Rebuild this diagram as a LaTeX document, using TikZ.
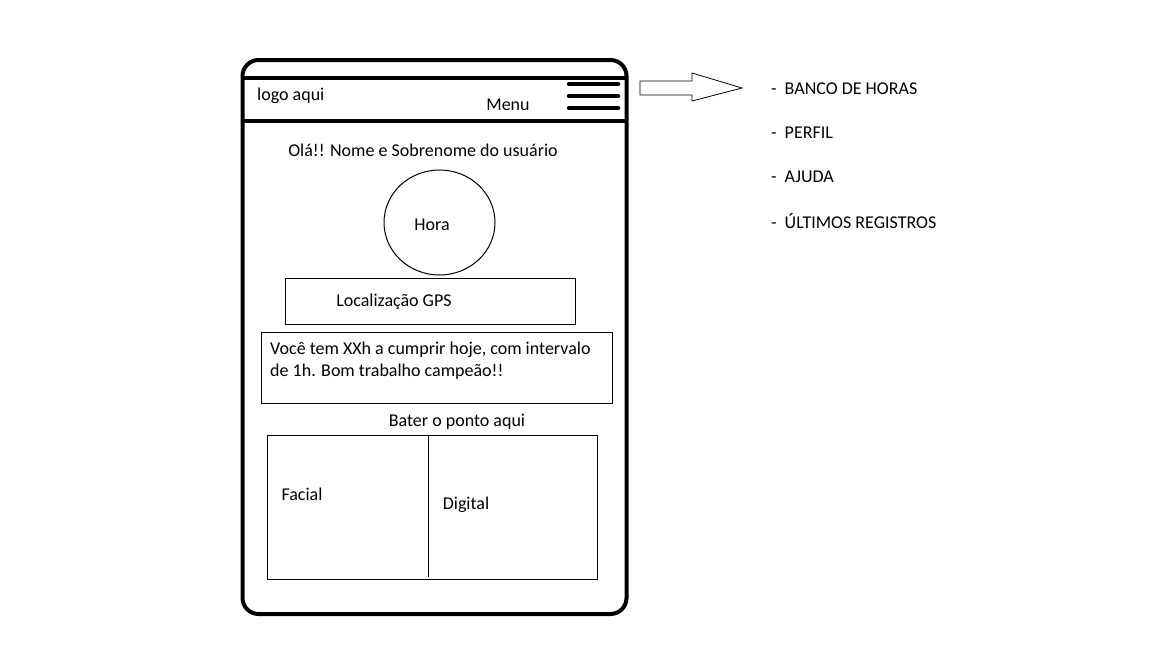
\documentclass[tikz,border=0pt]{standalone}
\usepackage{fontspec}
\setmainfont{Carlito}
\usetikzlibrary{shapes.geometric}
\begin{document}
\begin{tikzpicture}[x=1pt,y=-1pt,
  thick line/.style={line width=4pt},
  thin box/.style={draw,line width=1pt},
  lbl/.style={inner sep=0pt,font=\fontsize{18}{21}\selectfont},
  listitem/.style={lbl,anchor=west}]
\useasboundingbox (0,0) rectangle (1152,648);
% phone body
\draw[thick line,rounded corners=16pt] (242.5,60) rectangle (626.5,614);
\draw[thick line] (242.5,78) -- (626.5,78);
\draw[thick line] (242.5,121) -- (626.5,121);
% hamburger
\draw[line width=4.5pt,line cap=round] (569,84) -- (618,84);
\draw[line width=4.5pt,line cap=round] (569,96) -- (618,96);
\draw[line width=4.5pt,line cap=round] (569,108) -- (618,108);
\node[lbl,anchor=west] (logo) at (257,96) {logo aqui};
\node[lbl] (menu) at (508,105) {Menu};
% arrow
\draw[line width=0.8pt] (640,81) -- (692,81) -- (692,73) -- (742,88) -- (692,101) -- (692,95) -- (640,95) -- cycle;
% list
\node[listitem] (l1) at (771,89) {-\hspace{8pt}BANCO DE HORAS};
\node[listitem] (l2) at (771,133) {-\hspace{8pt}PERFIL};
\node[listitem] (l3) at (771,177) {-\hspace{8pt}AJUDA};
\node[listitem] (l4) at (771,221) {-\hspace{8pt}ÚLTIMOS REGISTROS};
% content
\node[lbl] (hello) at (423,150) {Olá!! Nome e Sobrenome do usuário};
\node[draw,line width=1pt,ellipse,minimum width=111pt,minimum height=105pt,inner sep=0pt] (clock) at (439.5,222.5) {};
\node[lbl] (hora) at (432,225) {Hora};
\node[thin box,minimum width=290pt,minimum height=46pt,inner sep=0pt] (gps) at (430,301) {};
\node[lbl] (gpst) at (394,302) {Localização GPS};
\node[thin box,minimum width=351pt,minimum height=71pt,inner sep=0pt] (msg) at (436.5,367.5) {};
\node[lbl,anchor=north west,align=left,font=\fontsize{18}{22}\selectfont] (msgt) at (270,342) {Você tem XXh a cumprir hoje, com intervalo\\de 1h. Bom trabalho campeão!!};
\node[lbl] (bater) at (457,422) {Bater o ponto aqui};
\node[thin box,minimum width=330pt,minimum height=144pt,inner sep=0pt] (ponto) at (432,507) {};
\coordinate (dtop) at (428,435);
\coordinate (dbot) at (428,577);
\draw[line width=1pt] (dtop) -- (dbot);
\node[lbl] (facial) at (302,494) {Facial};
\node[lbl] (digital) at (466,505) {Digital};
\end{tikzpicture}
\end{document}
